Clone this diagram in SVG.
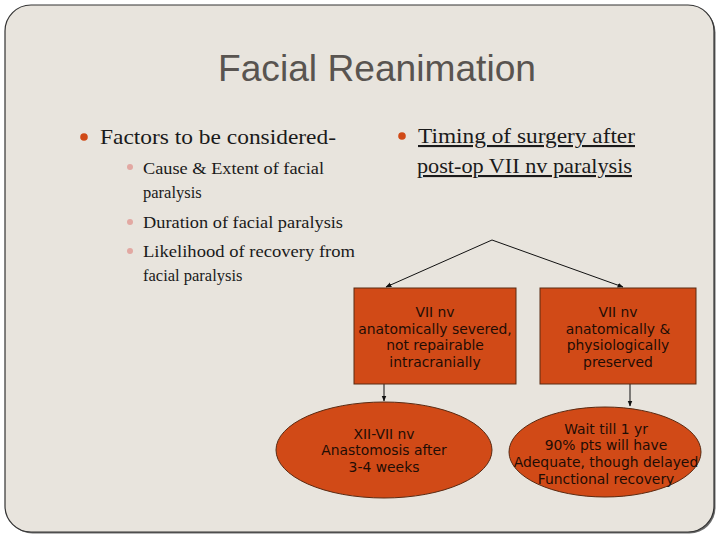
<svg xmlns="http://www.w3.org/2000/svg" width="720" height="540" viewBox="0 0 720 540">
<style>
.title{font-family:"Liberation Sans","DejaVu Sans",sans-serif;font-size:36px;fill:#595450}
.b1{font-family:"Liberation Serif","DejaVu Serif",serif;font-size:21px;fill:#1a1a1a}
.b2{font-family:"Liberation Serif","DejaVu Serif",serif;font-size:16.5px;fill:#1a1a1a}
.nt{font-family:"DejaVu Sans",Verdana,sans-serif;font-size:13.9px;fill:#1f0d05;text-anchor:middle}
.node{fill:#d14a17;stroke:#5a2a12;stroke-width:1}
.conn{stroke:#111;stroke-width:1;fill:none}
</style>
<defs>
<marker id="ah" viewBox="0 0 10 10" refX="9" refY="5" markerWidth="6" markerHeight="6" orient="auto">
<path d="M0,1 L10,5 L0,9 z" fill="#111"/>
</marker>
</defs>
<rect x="0" y="0" width="720" height="540" fill="#ffffff"/>
<rect x="6.5" y="6.5" width="709" height="527" rx="26" fill="#6a6a6a"/>
<rect x="5" y="5" width="709" height="527" rx="26" fill="#e8e4dd" stroke="#333" stroke-width="1.2"/>
<text class="title" x="377" y="81" text-anchor="middle" textLength="318" lengthAdjust="spacingAndGlyphs">Facial Reanimation</text>
<g id="left-bullets">
<circle cx="84" cy="137" r="3.8" fill="#d04a17"/>
<text class="b1" x="100" y="144" textLength="236" lengthAdjust="spacingAndGlyphs">Factors to be considered-</text>
<circle cx="130" cy="167" r="3" fill="#e2a8a2"/>
<text class="b2" x="143" y="174" textLength="181" lengthAdjust="spacingAndGlyphs">Cause &amp; Extent of facial</text>
<text class="b2" x="143" y="198">paralysis</text>
<circle cx="130" cy="222" r="3" fill="#e2a8a2"/>
<text class="b2" x="143" y="228" textLength="200" lengthAdjust="spacingAndGlyphs">Duration of facial paralysis</text>
<circle cx="130" cy="251" r="3" fill="#e2a8a2"/>
<text class="b2" x="143" y="257" textLength="212" lengthAdjust="spacingAndGlyphs">Likelihood of recovery from</text>
<text class="b2" x="143" y="281">facial paralysis</text>
</g>
<g id="right-bullet">
<circle cx="402" cy="136" r="3.8" fill="#d04a17"/>
<text class="b1" x="418" y="143" textLength="217" lengthAdjust="spacingAndGlyphs" text-decoration="underline">Timing of surgery after</text>
<text class="b1" x="417" y="173" textLength="215" lengthAdjust="spacingAndGlyphs" text-decoration="underline">post-op VII nv paralysis</text>
</g>
<g id="connectors">
<path class="conn" d="M492,240 L386,287" marker-end="url(#ah)"/>
<path class="conn" d="M492,240 L623,287" marker-end="url(#ah)"/>
<path class="conn" d="M384,384 L384,401" marker-end="url(#ah)"/>
<path class="conn" d="M630,384 L630,406" marker-end="url(#ah)"/>
</g>
<g id="box-severed">
<rect class="node" x="354" y="288" width="162" height="96"/>
<text class="nt" x="435" y="317">VII nv</text>
<text class="nt" x="435" y="334">anatomically severed,</text>
<text class="nt" x="435" y="350">not repairable</text>
<text class="nt" x="435" y="367">intracranially</text>
</g>
<g id="box-preserved">
<rect class="node" x="540" y="288" width="156" height="96"/>
<text class="nt" x="618" y="317">VII nv</text>
<text class="nt" x="618" y="334">anatomically &amp;</text>
<text class="nt" x="618" y="350">physiologically</text>
<text class="nt" x="618" y="367">preserved</text>
</g>
<g id="ellipse-anastomosis">
<ellipse class="node" cx="384" cy="450" rx="108" ry="48"/>
<text class="nt" x="384" y="439">XII-VII nv</text>
<text class="nt" x="384" y="455">Anastomosis after</text>
<text class="nt" x="384" y="472">3-4 weeks</text>
</g>
<g id="ellipse-wait">
<ellipse class="node" cx="605" cy="452" rx="96" ry="45"/>
<text class="nt" x="606" y="434">Wait till 1 yr</text>
<text class="nt" x="606" y="450">90% pts will have</text>
<text class="nt" x="606" y="467">Adequate, though delayed</text>
<text class="nt" x="606" y="484">Functional recovery</text>
</g>
</svg>
